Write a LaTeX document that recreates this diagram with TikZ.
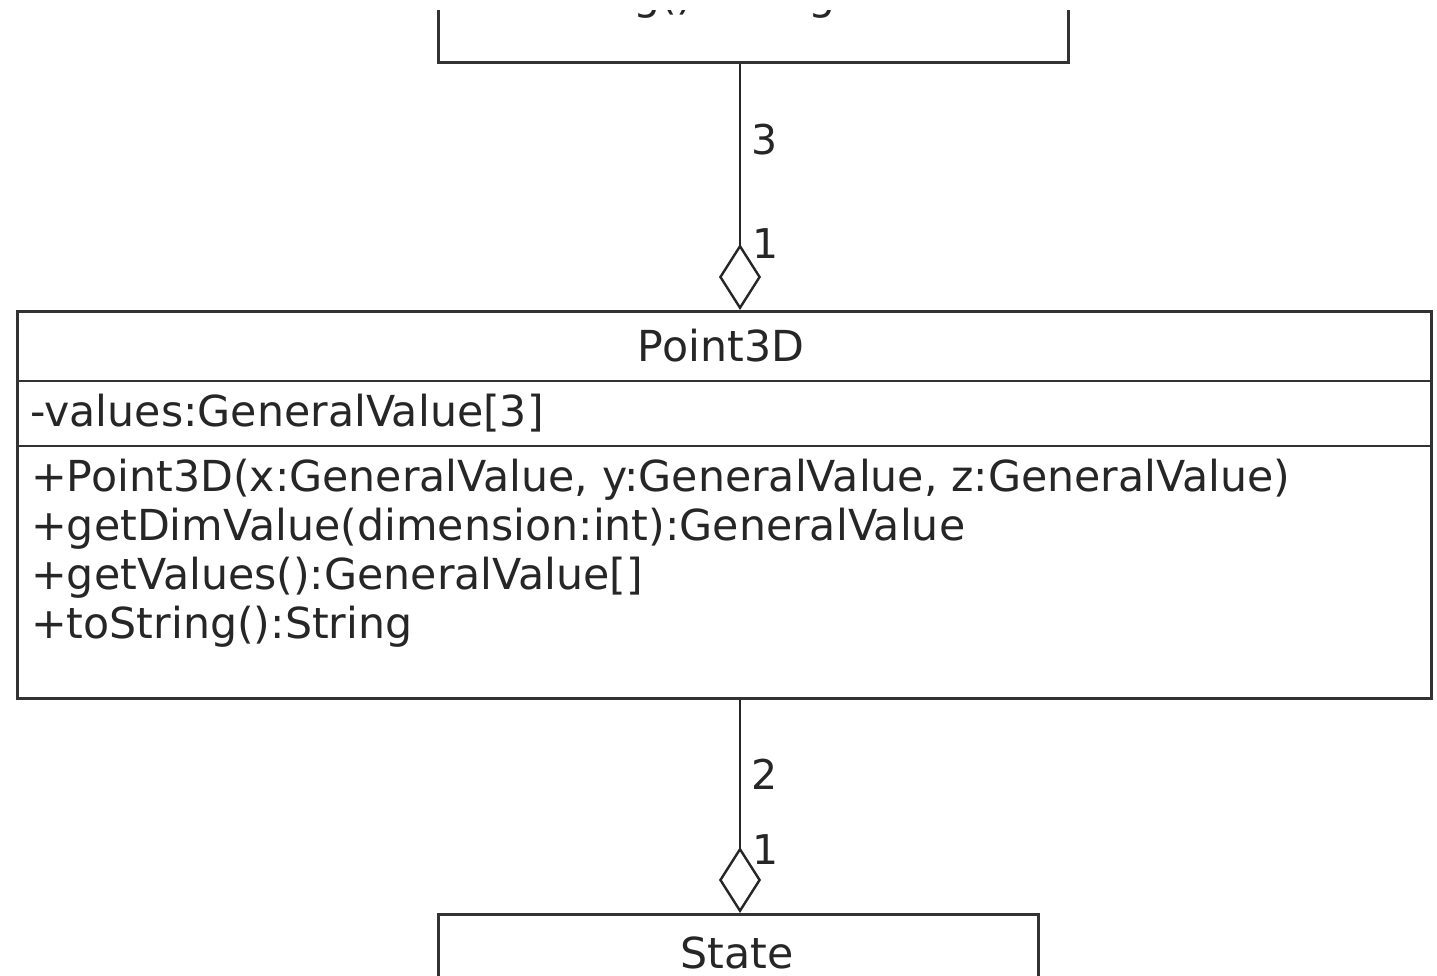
\documentclass[tikz,border=0pt]{standalone}
\usepackage{fontspec}
\setmainfont{DejaVu Sans}
\usetikzlibrary{arrows.meta}
\begin{document}
\begin{tikzpicture}[x=1pt,y=-1pt,
  box/.style={draw=black!80, line width=2.6pt, inner sep=0pt},
  sep/.style={draw=black!80, line width=2.6pt},
  txt/.style={anchor=base west, inner sep=0pt, font=\fontsize{42.7}{51}\selectfont, text=black!85},
  mult/.style={anchor=base west, inner sep=0pt, font=\fontsize{41}{48}\selectfont, text=black!85},
  aggr/.style={draw=black!85, line width=2pt,
    -{Diamond[open, length=66pt, width=42pt, line width=2.4pt]}}]
\useasboundingbox (0,0) rectangle (1437,976);
\fill[white] (0,0) rectangle (1437,976);

% class above: only its lowest strip is in view
\begin{scope}
  \clip (0,11) rectangle (1437,976);
  \node[box, anchor=south west, minimum width=630pt, minimum height=200pt] (top) at (437,64) {};
  \node[txt] (toplast) at (454,10) {+toString():String};
\end{scope}

% Point3D class
\node[box, anchor=north west, minimum width=1414pt, minimum height=387pt] (pt) at (16,310) {};
\draw[sep] (pt.west |- 0,381) -- (pt.east |- 0,381);
\draw[sep] (pt.west |- 0,446) -- (pt.east |- 0,446);
\node[txt, anchor=base] (ptname) at (721,361) {Point3D};
\node[txt] (ptattr) at (30,426) {-values:GeneralValue[3]};
\node[txt] (m1) at (31,491) {+Point3D(x:GeneralValue, y:GeneralValue, z:GeneralValue)};
\node[txt] (m2) at (31,540) {+getDimValue(dimension:int):GeneralValue};
\node[txt] (m3) at (31,589) {+getValues():GeneralValue[]};
\node[txt] (m4) at (31,638) {+toString():String};

% State class, upper part in view
\begin{scope}
  \clip (0,0) rectangle (1437,976);
  \node[box, anchor=north west, minimum width=600pt, minimum height=200pt] (st) at (437,913) {};
\end{scope}
\node[txt, anchor=base] (stname) at (737,968) {State};

% aggregations
\coordinate (lx) at (740,0);
\draw[aggr] (lx |- top.south) -- (lx |- pt.north);
\draw[aggr] (lx |- pt.south) -- (lx |- st.north);

% multiplicities
\node[mult] (n3) at (751,155) {3};
\node[mult] (n1a) at (752,259) {1};
\node[mult] (n2) at (751,789) {2};
\node[mult] (n1b) at (752,864) {1};
\end{tikzpicture}
\end{document}
